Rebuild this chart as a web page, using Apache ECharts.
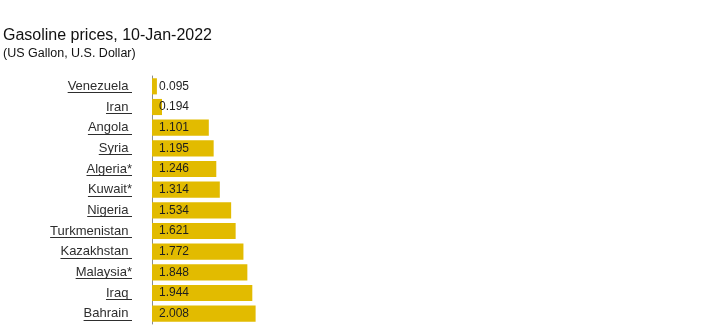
<!DOCTYPE html>
<html>
<head>
<meta charset="utf-8">
<script src="https://cdn.jsdelivr.net/npm/echarts@6/dist/echarts.min.js"></script>
<style>html,body{margin:0;padding:0;background:#fff}#c{width:720px;height:325px}</style>
</head>
<body>
<div id="c"></div>
<script>
const titleText = 'Gasoline prices, 10-Jan-2022';
const subtitleText = '(US Gallon, U.S. Dollar)';
const countries = ['Venezuela ', 'Iran ', 'Angola ', 'Syria ', 'Algeria*', 'Kuwait*', 'Nigeria ', 'Turkmenistan ', 'Kazakhstan ', 'Malaysia*', 'Iraq ', 'Bahrain '];
const prices = [0.095, 0.194, 1.101, 1.195, 1.246, 1.314, 1.534, 1.621, 1.772, 1.848, 1.944, 2.008];
const valueLabels = ['0.095', '0.194', '1.101', '1.195', '1.246', '1.314', '1.534', '1.621', '1.772', '1.848', '1.944', '2.008'];

const FONT = '"Liberation Sans", Arial, sans-serif';
const CAT_SIZE = 13;
const LABEL_MARGIN = 20;
const TEXT_COLOR = '#2e2e2e';
const ctx = document.createElement('canvas').getContext('2d');
ctx.font = CAT_SIZE + 'px ' + FONT;

const chart = echarts.init(document.getElementById('c'), null, {renderer: 'canvas'});
chart.setOption({
  animation: false,
  title: [
    {text: titleText, left: 3, top: 28, padding: 0,
     textStyle: {fontFamily: FONT, fontSize: 16, fontWeight: 'normal', color: '#111111'}},
    {text: subtitleText, left: 3, top: 47, padding: 0,
     textStyle: {fontFamily: FONT, fontSize: 12.5, fontWeight: 'normal', color: '#111111'}}
  ],
  grid: {left: 152, top: 76, width: 516, height: 248, containLabel: false},
  xAxis: {type: 'value', min: 0, max: 10, show: false, splitLine: {show: false}},
  yAxis: {
    type: 'category', data: countries, inverse: true,
    axisLine: {show: true, lineStyle: {color: '#8c8c8c', width: 1}},
    axisTick: {show: false},
    axisLabel: {margin: LABEL_MARGIN, fontFamily: FONT, fontSize: CAT_SIZE, color: TEXT_COLOR}
  },
  series: [
    {
      type: 'bar', data: prices, barCategoryGap: '22%',
      itemStyle: {color: '#e2bb00'},
      label: {show: true, position: 'insideLeft', distance: 7,
        formatter: p => valueLabels[p.dataIndex],
        fontFamily: FONT, fontSize: 12, color: '#1e1e1e'}
    },
    {
      type: 'custom', coordinateSystem: 'cartesian2d', clip: false, silent: true,
      data: countries.map((c, i) => [0, i]),
      encode: {x: 0, y: 1},
      renderItem: (params, api) => {
        const p = api.coord([0, api.value(1)]);
        const w = ctx.measureText(countries[params.dataIndex]).width;
        const right = p[0] - LABEL_MARGIN;
        const y = Math.round(p[1] + 6) + 0.5;
        return {type: 'line', shape: {x1: right - w, y1: y, x2: right, y2: y},
          style: {stroke: TEXT_COLOR, lineWidth: 1}};
      }
    }
  ]
});
</script>
</body>
</html>
